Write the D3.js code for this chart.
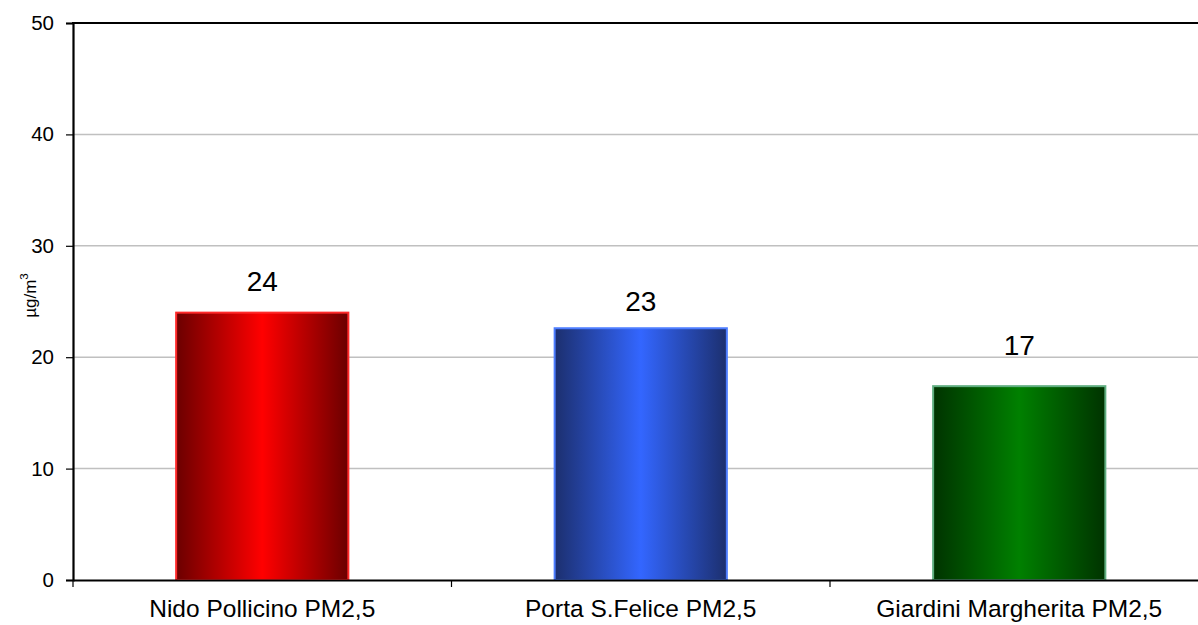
<!DOCTYPE html>
<html>
<head>
<meta charset="utf-8">
<script src="https://cdn.jsdelivr.net/npm/d3@7"></script>
<style>
  html, body { margin: 0; padding: 0; background: #fff; overflow: hidden; }
  svg { display: block; font-family: "Liberation Sans", Arial, sans-serif; }
</style>
</head>
<body>
<svg id="chart" width="1198" height="625"></svg>
<script>
// PM2,5 annual mean by monitoring site
const categories = ["Nido Pollicino PM2,5", "Porta S.Felice PM2,5", "Giardini Margherita PM2,5"];
const values = [24.0, 22.6, 17.4];
const yTicks = [0, 10, 20, 30, 40, 50];

// bar fill palettes: edge (dark), centre (bright), outline
const palettes = [
  { edge: "#6b0000", mid: "#ff0000", stroke: "#ff2a2a" },
  { edge: "#1c2f6e", mid: "#3366ff", stroke: "#4d7dff" },
  { edge: "#003300", mid: "#008000", stroke: "#5fae80" }
];
// vertical nudges of the value labels above each bar
const labelNudge = [-22, -17, -31];

const svg = d3.select("#chart");
const margin = { left: 73, top: 23, bottom: 45 };
const H = 625;
const plotBottom = H - margin.bottom; // 580

const x = d3.scaleBand().domain(categories).range([73, 1208.5]).padding(0);
const y = d3.scaleLinear().domain([0, 50]).range([plotBottom, margin.top]);
const barW = x.bandwidth() * 0.455;

// gradients
const defs = svg.append("defs");
palettes.forEach((p, i) => {
  const g = defs.append("linearGradient").attr("id", "grad" + i)
    .attr("x1", "0%").attr("x2", "100%").attr("y1", "0%").attr("y2", "0%");
  g.append("stop").attr("offset", "0%").attr("stop-color", p.edge);
  g.append("stop").attr("offset", "50%").attr("stop-color", p.mid);
  g.append("stop").attr("offset", "100%").attr("stop-color", p.edge);
});

// horizontal gridlines
svg.append("g").selectAll("line").data(yTicks.filter(t => t > 0 && t < 50)).join("line")
  .attr("x1", 73).attr("x2", 1198)
  .attr("y1", d => y(d)).attr("y2", d => y(d))
  .attr("stroke", "#c0c0c0").attr("stroke-width", 1.5);

// top frame line
svg.append("line").attr("x1", 72).attr("x2", 1198)
  .attr("y1", y(50)).attr("y2", y(50))
  .attr("stroke", "#000").attr("stroke-width", 2.2);

// bars
svg.append("g").selectAll("rect").data(values).join("rect")
  .attr("x", (d, i) => x(categories[i]) + (x.bandwidth() - barW) / 2)
  .attr("width", barW)
  .attr("y", d => y(d))
  .attr("height", d => y(0) - y(d))
  .attr("fill", (d, i) => `url(#grad${i})`)
  .attr("stroke", (d, i) => palettes[i].stroke)
  .attr("stroke-width", 2);

// value labels
svg.append("g").selectAll("text").data(values).join("text")
  .attr("x", (d, i) => x(categories[i]) + x.bandwidth() / 2)
  .attr("y", (d, i) => y(d) + labelNudge[i])
  .attr("text-anchor", "middle")
  .attr("font-size", 28)
  .attr("fill", "#000")
  .text(d => d3.format(".0f")(d));

// y axis
const yAxis = svg.append("g").attr("transform", "translate(73,0)")
  .call(d3.axisLeft(y).tickValues(yTicks).tickSize(7).tickPadding(12).tickFormat(d3.format("d")));
yAxis.select(".domain").attr("stroke", "#000").attr("stroke-width", 2.2);
yAxis.selectAll(".tick line").attr("stroke", "#000").attr("stroke-width", 1.2);
yAxis.selectAll(".tick text").attr("font-size", 20.5).attr("font-family", "Liberation Sans, Arial, sans-serif").attr("fill", "#000");

// x axis
const xAxis = svg.append("g").attr("transform", `translate(0,${plotBottom})`)
  .call(d3.axisBottom(x).tickSize(0).tickPadding(0));
xAxis.select(".domain").attr("stroke", "#000").attr("stroke-width", 2.2);
xAxis.selectAll(".tick text")
  .attr("y", 37).attr("dy", null)
  .attr("font-size", 24.5).attr("font-family", "Liberation Sans, Arial, sans-serif").attr("fill", "#000");

// category separator ticks
const seps = categories.map(c => x(c)).concat([x.range()[1]]);
svg.append("g").selectAll("line").data(seps).join("line")
  .attr("x1", d => d).attr("x2", d => d)
  .attr("y1", plotBottom).attr("y2", plotBottom + 7)
  .attr("stroke", "#000").attr("stroke-width", 1.2);

// y axis title
const yt = svg.append("text")
  .attr("transform", `translate(36,${(y(50) + y(0)) / 2 - 6}) rotate(-90)`)
  .attr("text-anchor", "middle")
  .attr("font-size", 17)
  .attr("fill", "#000");
yt.append("tspan").text("µg/m");
yt.append("tspan").attr("dy", -8).attr("font-size", 11.5).text("3");
</script>
</body>
</html>
